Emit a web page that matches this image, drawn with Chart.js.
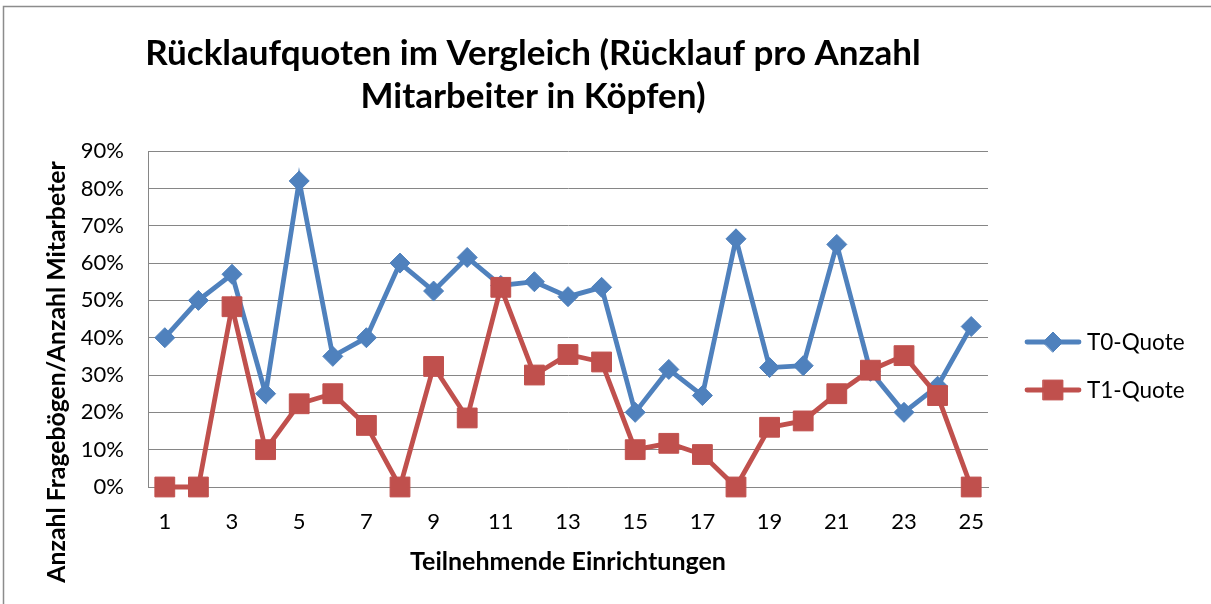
<!DOCTYPE html>
<html>
<head>
<meta charset="utf-8">
<script src="https://cdn.jsdelivr.net/npm/chart.js@4.4.0/dist/chart.umd.min.js"></script>
<style>
html, body { margin: 0; padding: 0; background: #fff; }
#wrap { position: relative; width: 1211px; height: 604px; }
</style>
</head>
<body>
<div id="wrap"><canvas id="chart"></canvas></div>
<script>
// values, in percent
const einrichtungen = ['1','2','3','4','5','6','7','8','9','10','11','12','13',
                       '14','15','16','17','18','19','20','21','22','23','24','25'];
const t0Quote = [40, 50, 57, 25, 82, 35, 40, 60, 52.5, 61.5, 54, 55, 51,
                 53.5, 20, 31.5, 24.5, 66.5, 32, 32.5, 65, 31, 20, 27, 43];
const t1Quote = [0, 0, 48.3, 10, 22.3, 25, 16.5, 0, 32.3, 18.5, 53.5, 30, 35.5,
                 33.5, 10, 11.7, 8.7, 0, 16, 17.7, 25, 31.3, 35.2, 24.5, 0];
const seriesNames = ['T0-Quote', 'T1-Quote'];
const titleLines = ['Rücklaufquoten im Vergleich (Rücklauf pro Anzahl', 'Mitarbeiter in Köpfen)'];
const xTitle = 'Teilnehmende Einrichtungen';
const yTitle = 'Anzahl Fragebögen/Anzahl Mitarbeter';

const blue = '#4F81BD';
const red = '#C0504D';
const gridGrey = '#868686';
const font = 'Lato';

//outer frame of the picture
const framePlugin = {
    id: 'frame',
    beforeDraw(chart){
        const c = chart.ctx;
        c.save();
        c.fillStyle = '#fff';
        c.fillRect(0, 0, chart.width, chart.height);
        c.strokeStyle = '#8c8c8c';
        c.lineWidth = 1.5;
        c.strokeRect(3.5, 6.5, chart.width + 20, chart.height + 20);
        c.restore();
    }
};

//y axis title, centred like in the original
const yTitlePlugin = {
    id: 'yTitle',
    afterDraw(chart){
        const c = chart.ctx;
        c.save();
        c.translate(57, 372);
        c.rotate(-Math.PI / 2);
        c.font = 'bold 24.8px ' + font;
        c.fillStyle = '#000';
        c.textAlign = 'center';
        c.textBaseline = 'middle';
        c.fillText(yTitle, 0, 0);
        c.restore();
    }
};

//legend with line + marker, Excel style
const lineLegendPlugin = {
    id: 'lineLegend',
    afterDraw(chart){
        const c = chart.ctx;
        const rows = [342, 390];
        chart.data.datasets.forEach((ds, i) => {
            const y = rows[i];
            c.save();
            c.strokeStyle = ds.borderColor;
            c.lineWidth = ds.borderWidth;
            c.lineCap = 'round';
            c.beginPath();
            c.moveTo(1027, y);
            c.lineTo(1079, y);
            c.stroke();
            c.fillStyle = ds.backgroundColor;
            c.strokeStyle = ds.borderColor;
            c.lineWidth = 1;
            Chart.helpers.drawPoint(c, {pointStyle: ds.pointStyle, radius: ds.pointRadius, borderWidth: 1}, 1053, y);
            c.font = '22.5px ' + font;
            c.fillStyle = '#000';
            c.textBaseline = 'middle';
            c.fillText(ds.label, 1087, y + 1);
            c.restore();
        });
    }
};

const ctx = document.getElementById('chart').getContext('2d');
const chart = new Chart(ctx, {
    type: 'line',
    data: {
        labels: einrichtungen,
        datasets: [{
            label: seriesNames[0],
            data: t0Quote,
            borderColor: blue,
            backgroundColor: blue,
            borderWidth: 4.8,
            pointStyle: 'rectRot',
            pointRadius: 10,
            pointBorderWidth: 1,
            clip: false,
            order: 2
        }, {
            label: seriesNames[1],
            data: t1Quote,
            borderColor: red,
            backgroundColor: red,
            borderWidth: 4.8,
            pointStyle: 'rect',
            pointRadius: 14,
            pointBorderWidth: 1,
            clip: false,
            order: 1
        }]
    },
    options: {
        responsive: true,
        maintainAspectRatio: false,
        animation: false,
        devicePixelRatio: 1,
        layout: { padding: { left: 78, right: 223, top: 0, bottom: 0 } },
        elements: { line: { tension: 0 } },
        plugins: {
            legend: { display: false },
            tooltip: { enabled: false },
            title: {
                display: true,
                text: titleLines,
                color: '#000',
                font: { family: font, size: 35, weight: 'bold', lineHeight: 1.23 },
                padding: { top: 32, bottom: 33 }
            }
        },
        scales: {
            x: {
                offset: true,
                grid: { display: false, drawTicks: false },
                border: { color: gridGrey, width: 1 },
                ticks: {
                    autoSkip: false,
                    maxRotation: 0,
                    padding: 22,
                    color: '#000',
                    font: { family: font, size: 22 },
                    callback: (v, i) => i % 2 === 0 ? einrichtungen[i] : ''
                },
                title: {
                    display: true,
                    text: xTitle,
                    color: '#000',
                    font: { family: font, size: 25, weight: 'bold' },
                    padding: { top: 0, bottom: 27 }
                },
                afterFit: s => { s.height = 117; }
            },
            y: {
                min: 0,
                max: 90,
                grid: { color: gridGrey, lineWidth: 1, drawTicks: false },
                border: { color: gridGrey, width: 1 },
                ticks: {
                    stepSize: 10,
                    padding: 24,
                    color: '#000',
                    font: { family: font, size: 22 },
                    callback: v => v + '%'
                },
                afterFit: s => { s.width = 70; }
            }
        }
    },
    plugins: [framePlugin, yTitlePlugin, lineLegendPlugin]
});
</script>
</body>
</html>
